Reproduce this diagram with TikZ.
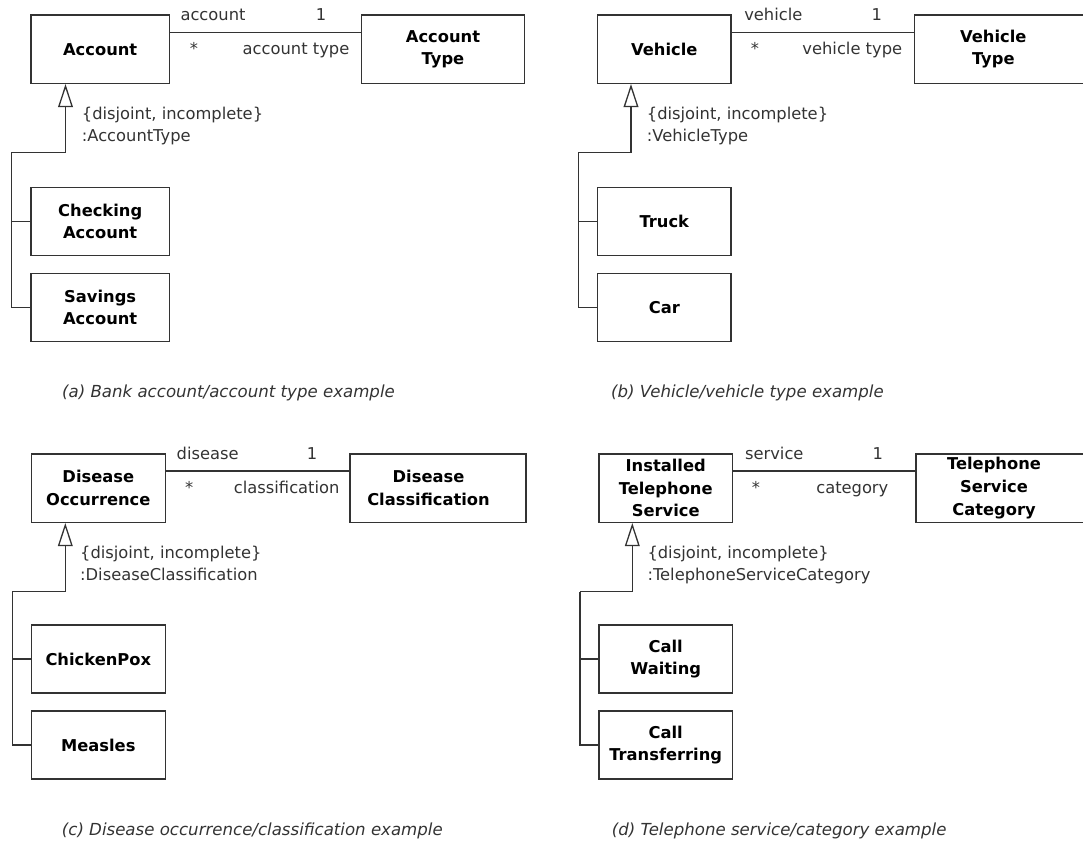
\documentclass[tikz,border=0pt]{standalone}
\usepackage{fontspec}
\setmainfont{DejaVu Sans}[BoldFont={DejaVu Sans Bold},ItalicFont={DejaVu Sans Oblique}]
\usetikzlibrary{arrows.meta}
\newcommand\clsfont{\fontsize{16.3}{22.7}\selectfont\bfseries}
\newcommand\lblfont{\fontsize{16.3}{22.7}\selectfont}
\newcommand\capfont{\fontsize{16.6}{20}\selectfont\itshape}
\definecolor{ln}{HTML}{333333}
\definecolor{tx}{HTML}{333333}
\tikzset{
  cls/.style={draw=ln, line width=1.4pt, rectangle, inner sep=0pt, align=center, font=\clsfont, text=black, minimum height=68.3pt},
  lbl/.style={font=\lblfont, text=tx, inner sep=0pt},
  captext/.style={font=\capfont, text=tx, inner sep=0pt},
  assoc/.style={draw=ln, line width=1.3pt},
  gen/.style={assoc, -{Triangle[fill=white, length=23pt, width=14.7pt]}},
}
\begin{document}
\begin{tikzpicture}[x=1pt,y=-1pt]
\useasboundingbox (0,0) rectangle (1083,844);
\clip (0,0) rectangle (1083,844);

% ---------- (a)
\node[cls, minimum width=138.3pt] (Acc) at (100.2,49.2) {Account};
\node[cls, minimum width=162.6pt] (AccT) at (443,49.2) {Account\\Type};
\node[cls, minimum width=138.3pt] (ChA) at (100.2,221.5) {Checking\\Account};
\node[cls, minimum width=138.3pt] (SaA) at (100.2,307.5) {Savings\\Account};
\coordinate (aL) at (0,32.3);
\draw[assoc] (Acc.east |- aL) -- (AccT.west |- aL);
\node[lbl, anchor=base] (aR1) at (213,20.3) {account};
\node[lbl, anchor=base] (aM1) at (321,20.3) {1};
\node[lbl, anchor=base] (aM2) at (194,54.5) {*};
\node[lbl, anchor=base] (aR2) at (296,54.5) {account type};
\coordinate (aE1) at (65.5,152.3);
\coordinate (aE2) at (11.3,152.3);
\draw[gen] (aE2) -- (aE1) -- (Acc.south -| aE1);
\draw[assoc] (SaA.west) -| (aE2);
\draw[assoc] (ChA.west) -- (ChA.west -| aE2);
\node[lbl, anchor=base west] (aC1) at (81.7,119.2) {\{disjoint, incomplete\}};
\node[lbl, anchor=base west] (aC2) at (81.7,141.9) {:AccountType};
\node[captext, anchor=base west] (aCap) at (62,397) {(a) Bank account/account type example};

% ---------- (b)
\node[cls, minimum width=133.3pt] (Veh) at (664.3,49.2) {Vehicle};
\node[cls, minimum width=185.7pt, label={[font=\clsfont, align=center, xshift=-13.9pt]center:Vehicle\\Type}] (VehT) at (1007.2,49.2) {};
\node[cls, minimum width=133.3pt] (Tru) at (664.3,221.5) {Truck};
\node[cls, minimum width=133.3pt] (Car) at (664.3,307.5) {Car};
\draw[assoc] (Veh.east |- aL) -- (VehT.west |- aL);
\node[lbl, anchor=base] (bR1) at (773.3,20.3) {vehicle};
\node[lbl, anchor=base] (bM1) at (876.7,20.3) {1};
\node[lbl, anchor=base] (bM2) at (755,54.5) {*};
\node[lbl, anchor=base] (bR2) at (852.3,54.5) {vehicle type};
\coordinate (bE1) at (631,152.3);
\coordinate (bE2) at (578.7,152.3);
\draw[gen] (bE2) -- (bE1) -- (Veh.south -| bE1);
\draw[assoc] (Car.west) -| (bE2);
\draw[assoc] (Tru.west) -- (Tru.west -| bE2);
\node[lbl, anchor=base west] (bC1) at (646.7,119.2) {\{disjoint, incomplete\}};
\node[lbl, anchor=base west] (bC2) at (646.7,141.9) {:VehicleType};
\node[captext, anchor=base west] (bCap) at (611,397) {(b) Vehicle/vehicle type example};

% ---------- (c)
\node[cls, minimum width=134pt] (DO) at (98.3,488.2) {Disease\\Occurrence};
\node[cls, minimum width=176pt, label={[font=\clsfont, align=center, xshift=-9.5pt]center:Disease\\Classification}] (DC) at (438,488.2) {};
\node[cls, minimum width=134pt] (CP) at (98.3,659) {ChickenPox};
\node[cls, minimum width=134pt] (Me) at (98.3,745) {Measles};
\coordinate (cL) at (0,471);
\draw[assoc] (DO.east |- cL) -- (DC.west |- cL);
\node[lbl, anchor=base] (cR1) at (207.7,459.2) {disease};
\node[lbl, anchor=base] (cM1) at (312,459.2) {1};
\node[lbl, anchor=base] (cM2) at (189.3,493.2) {*};
\node[lbl, anchor=base] (cR2) at (286.7,493.2) {classification};
\coordinate (cE1) at (65.3,591.7);
\coordinate (cE2) at (12.3,591.7);
\draw[gen] (cE2) -- (cE1) -- (DO.south -| cE1);
\draw[assoc] (Me.west) -| (cE2);
\draw[assoc] (CP.west) -- (CP.west -| cE2);
\node[lbl, anchor=base west] (cC1) at (80,558.2) {\{disjoint, incomplete\}};
\node[lbl, anchor=base west] (cC2) at (80,580.9) {:DiseaseClassification};
\node[captext, anchor=base west] (cCap) at (61.7,835.5) {(c) Disease occurrence/classification example};

% ---------- (d)
\node[cls, minimum width=133.3pt] (ITS) at (665.7,488.2) {Installed\\Telephone\\Service};
\node[cls, minimum width=184pt, label={[font=\clsfont, align=center, xshift=-14pt]center:Telephone\\Service\\Category}] (TSC) at (1008,488.2) {};
\node[cls, minimum width=133.3pt] (CW) at (665.7,659) {Call\\Waiting};
\node[cls, minimum width=133.3pt] (CT) at (665.7,745) {Call\\Transferring};
\draw[assoc] (ITS.east |- cL) -- (TSC.west |- cL);
\node[lbl, anchor=base] (dR1) at (774.3,459.2) {service};
\node[lbl, anchor=base] (dM1) at (877.7,459.2) {1};
\node[lbl, anchor=base] (dM2) at (756,493.2) {*};
\node[lbl, anchor=base] (dR2) at (852.3,493.2) {category};
\coordinate (dE1) at (632.3,591.7);
\coordinate (dE2) at (580,591.7);
\draw[gen] (dE2) -- (dE1) -- (ITS.south -| dE1);
\draw[assoc] (CT.west) -| (dE2);
\draw[assoc] (CW.west) -- (CW.west -| dE2);
\node[lbl, anchor=base west] (dC1) at (647.3,558.2) {\{disjoint, incomplete\}};
\node[lbl, anchor=base west] (dC2) at (647.3,580.9) {:TelephoneServiceCategory};
\node[captext, anchor=base west] (dCap) at (611.7,835.5) {(d) Telephone service/category example};
\end{tikzpicture}
\end{document}
